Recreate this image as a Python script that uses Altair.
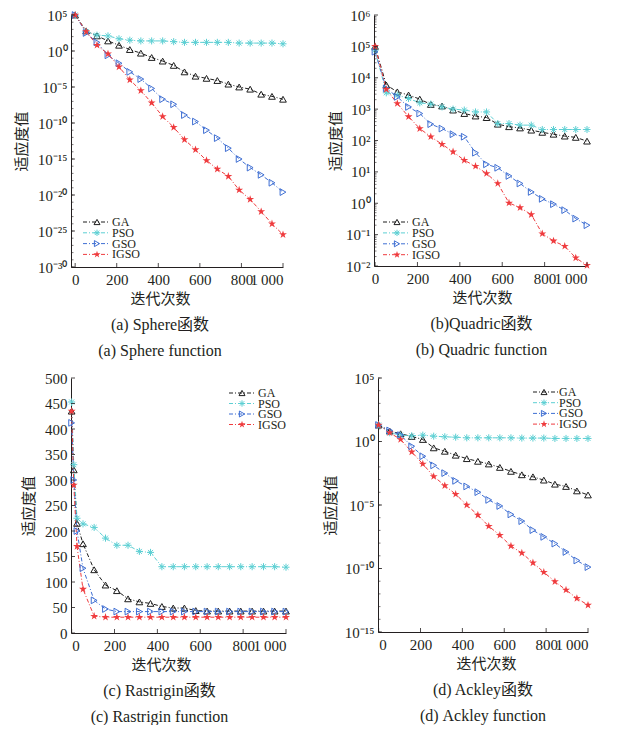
import math
import altair as alt
import pandas as pd

FONT = "'Liberation Serif', 'Times New Roman', 'Noto Sans CJK SC', serif"
TXT = "#231f20"

SERIES = ["GA", "PSO", "GSO", "IGSO"]
COLORS = ["#1e1e1e", "#5ccfd3", "#3f6fd3", "#ef3b3e"]
ASTER = "M0,-1L0,1M-1,0L1,0M-0.7,-0.7L0.7,0.7M-0.7,0.7L0.7,-0.7"
STAR = ("M0,-1L0.2245,-0.309L0.9511,-0.309L0.3633,0.118L0.5878,0.809L0,0.382"
        "L-0.5878,0.809L-0.3633,0.118L-0.9511,-0.309L-0.2245,-0.309Z")
SHAPES = ["triangle-up", ASTER, "triangle-right", STAR]
FILLED = [False, False, False, True]
SIZES = [45, 50, 45, 70]
DASH = [4, 2, 1, 2]

iters = [0, 53, 105, 158, 211, 263, 316, 368, 421, 474, 526, 579, 632, 684, 737, 789, 842, 895, 947, 1000]
iters_c = [0, 10, 25, 53, 105, 158, 211, 263, 316, 368, 421, 474, 526, 579, 632, 684, 737, 789, 842, 895, 947, 1000]

# (a) Sphere, log10 of fitness
sphere_ga = [5, 2.8, 2.1, 1.4, 0.8, 0.2, -0.3, -0.9, -1.4, -2.0, -2.9, -3.5, -3.8, -4.1, -4.6, -5.0, -5.3, -6.0, -6.3, -6.7]
sphere_pso = [5, 2.7, 2.2, 2.1, 1.7, 1.5, 1.4, 1.4, 1.4, 1.3, 1.2, 1.2, 1.2, 1.2, 1.2, 1.1, 1.1, 1.1, 1.1, 1.0]
sphere_gso = [5, 2.5, 1.2, -0.6, -1.7, -2.9, -3.9, -5.2, -6.7, -7.4, -8.9, -9.8, -11.0, -12.1, -13.5, -15.0, -16.2, -17.2, -18.3, -19.6]
sphere_igso = [5, 2.7, 0.8, -0.4, -2.2, -4.0, -5.5, -7.2, -9.1, -10.6, -12.3, -13.7, -15.2, -16.4, -17.4, -19.3, -20.6, -22.3, -24.0, -25.5]

# (b) Quadric, log10 of fitness
quad_ga = [5.0, 3.77, 3.55, 3.45, 3.32, 3.15, 3.1, 2.97, 2.86, 2.78, 2.73, 2.52, 2.44, 2.4, 2.33, 2.26, 2.2, 2.14, 2.1, 1.98]
quad_pso = [4.88, 3.52, 3.45, 3.34, 3.2, 3.16, 3.07, 3.0, 2.97, 2.91, 2.91, 2.54, 2.54, 2.49, 2.49, 2.35, 2.35, 2.35, 2.35, 2.35]
quad_gso = [4.83, 3.66, 3.39, 3.07, 2.86, 2.52, 2.38, 2.2, 2.12, 1.61, 1.24, 1.13, 0.87, 0.63, 0.36, 0.14, -0.03, -0.22, -0.49, -0.7]
quad_igso = [5.0, 3.63, 3.18, 2.76, 2.38, 2.12, 1.88, 1.64, 1.37, 1.18, 0.95, 0.63, 0.01, -0.14, -0.36, -0.97, -1.2, -1.37, -1.74, -1.98]

# (c) Rastrigin, fitness
rast_ga = [435, 320, 215, 175, 124, 94, 83, 67, 61, 58, 52, 49, 49, 44, 43, 43, 43, 43, 43, 43, 43, 43]
rast_pso = [453, 330, 225, 214, 207, 186, 172, 172, 160, 158, 130, 130, 130, 130, 130, 130, 130, 130, 130, 130, 130, 129]
rast_gso = [412, 300, 200, 127, 64, 47, 42, 42, 42, 42, 42, 42, 42, 42, 42, 42, 42, 42, 42, 42, 42, 42]
rast_igso = [435, 290, 170, 86, 33, 31, 31, 31, 31, 31, 31, 31, 31, 31, 31, 31, 31, 31, 31, 31, 31, 31]

# (d) Ackley, log10 of fitness
ack_ga = [1.3, 0.82, 0.61, 0.4, 0.16, -0.5, -0.77, -1.08, -1.35, -1.56, -1.77, -2.04, -2.35, -2.62, -2.78, -3.04, -3.36, -3.54, -3.89, -4.21]
ack_pso = [1.3, 0.69, 0.5, 0.45, 0.5, 0.42, 0.37, 0.34, 0.29, 0.29, 0.29, 0.29, 0.29, 0.27, 0.27, 0.27, 0.24, 0.24, 0.24, 0.24]
ack_gso = [1.3, 0.87, 0.5, -0.37, -1.16, -1.88, -2.49, -3.1, -3.54, -3.99, -4.6, -5.08, -5.74, -6.27, -6.98, -7.51, -8.04, -8.7, -9.37, -9.89]
ack_igso = [1.3, 0.69, 0.16, -0.82, -1.77, -2.75, -3.47, -4.15, -5.0, -5.79, -6.67, -7.38, -8.23, -8.78, -9.55, -10.29, -11.03, -11.69, -12.35, -12.88]

x_ticks = [0, 200, 400, 600, 800, 1000]
x_title = "迭代次数"
y_title = "适应度值"

SUP = str.maketrans("0123456789-", "⁰¹²³⁴⁵⁶⁷⁸⁹⁻")


def log_label_expr(exps):
    expr = "''"
    for e in reversed(exps):
        expr = f"(round(log(datum.value)/LN10) == {e} ? '10{str(e).translate(SUP)}' : {expr})"
    return expr


def make_df(xs, vals, log):
    rows = []
    for s, vs in zip(SERIES, vals):
        for x, v in zip(xs, vs):
            rows.append({"x": x, "y": 10.0 ** v if log else v, "series": s})
    return pd.DataFrame(rows)


def panel(df, log, ydom, ylabels, ymajor, yminor, xdom, w, h, ytx, xtx, leg, caption, cap_dx):
    xscale = alt.Scale(domain=xdom, nice=False, zero=False)
    common = dict(title=y_title, titleX=ytx, titleY=h / 2, titleAngle=270, titleBaseline="middle",
                  titleAlign="center", labelPadding=4)
    if log:
        yscale = alt.Scale(type="log", domain=ydom, nice=False)
        yaxis = alt.Axis(values=ylabels, labelExpr=log_label_expr([round(math.log10(v)) for v in ylabels]), **common)
    else:
        yscale = alt.Scale(domain=ydom, nice=False, zero=True)
        yaxis = alt.Axis(values=ylabels, **common)
    X = alt.X("x:Q", scale=xscale,
              axis=alt.Axis(values=x_ticks, labelExpr="datum.value == 1000 ? '1\u2009000' : datum.label",
                            title=x_title, titleX=xtx, titleY=31, titleBaseline="middle", titleAlign="center",
                            labelPadding=5))
    Y = alt.Y("y:Q", scale=yscale, axis=yaxis)

    layers = []
    for s, c in zip(SERIES, COLORS):
        layers.append(alt.Chart(df[df.series == s].reset_index(drop=True))
                      .mark_line(color=c, strokeWidth=1, strokeDash=DASH).encode(x=X, y=Y))
    for s, c, sh, f, sz in zip(SERIES, COLORS, SHAPES, FILLED, SIZES):
        layers.append(alt.Chart(df[df.series == s].reset_index(drop=True))
                      .mark_point(color=c, shape=sh, filled=f, size=sz, strokeWidth=1, opacity=1)
                      .encode(x=X, y=Y))
    # inward ticks
    layers.append(alt.Chart(pd.DataFrame({"y": ymajor})).mark_rule(color=TXT, strokeWidth=0.8)
                  .encode(y=Y, x=alt.value(0), x2=alt.value(4)))
    if yminor:
        layers.append(alt.Chart(pd.DataFrame({"y": yminor})).mark_rule(color=TXT, strokeWidth=0.6)
                      .encode(y=Y, x=alt.value(0), x2=alt.value(2.5)))
    layers.append(alt.Chart(pd.DataFrame({"x": x_ticks})).mark_rule(color=TXT, strokeWidth=0.8)
                  .encode(x=X, y=alt.value(h), y2=alt.value(h - 4)))
    # legend
    x0, x1, xm, xt, y0, dy = leg
    one = pd.DataFrame({"k": [0]})
    for i, (s, c, sh, f, sz) in enumerate(zip(SERIES, COLORS, SHAPES, FILLED, SIZES)):
        yy = y0 + i * dy
        layers.append(alt.Chart(one).mark_rule(color=c, strokeWidth=1, strokeDash=DASH)
                      .encode(x=alt.value(x0), x2=alt.value(x1), y=alt.value(yy)))
        layers.append(alt.Chart(one).mark_point(color=c, shape=sh, filled=f, size=sz * 0.8, strokeWidth=1, opacity=1)
                      .encode(x=alt.value(xm), y=alt.value(yy)))
        layers.append(alt.Chart(one).mark_text(text=s, align="left", baseline="middle", font=FONT,
                                               fontSize=12, color=TXT)
                      .encode(x=alt.value(xt), y=alt.value(yy)))
    return alt.layer(*layers).properties(
        width=w, height=h,
        title=alt.TitleParams(text=caption, orient="bottom", anchor="middle", frame="group", dx=cap_dx,
                              offset=11, font=FONT, fontSize=16, fontWeight="normal", color=TXT, lineHeight=26))


def dec(a, b):
    return [10.0 ** e for e in range(a, b - 1, -1)]


pa = panel(make_df(iters, [sphere_ga, sphere_pso, sphere_gso, sphere_igso], True), True,
           [1e-30, 1e5], [10.0 ** e for e in range(5, -31, -5)], [10.0 ** e for e in range(5, -31, -5)],
           dec(5, -30), [-20, 1000], 212, 252, -50, 89,
           (12, 39, 26, 41, 207, 10.8), ["(a) Sphere函数", "(a) Sphere function"], -17)

pb_minor = [k * 10.0 ** e for e in range(-2, 6) for k in range(2, 10)]
pb = panel(make_df(iters, [quad_ga, quad_pso, quad_gso, quad_igso], True), True,
           [1e-2, 1e6], dec(6, -2), dec(6, -2), pb_minor, [-5, 1000], 213, 251, -39, 108,
           (9, 36, 23, 38, 207, 10.9), ["(b)Quadric函数", "(b) Quadric function"], 1)

pc = panel(make_df(iters_c, [rast_ga, rast_pso, rast_gso, rast_igso], False), False,
           [0, 500], list(range(0, 501, 50)), list(range(0, 501, 50)), None, [-3, 1000], 215, 255, -43, 90,
           (158, 185, 171, 187, 15, 10.5), ["(c) Rastrigin函数", "(c) Rastrigin function"], -19)

pd_ = panel(make_df(iters, [ack_ga, ack_pso, ack_gso, ack_igso], True), True,
            [1e-15, 1e5], [10.0 ** e for e in range(5, -16, -5)], [10.0 ** e for e in range(5, -16, -5)],
            dec(5, -15), [-3, 1000], 210, 254, -48, 108,
            (155, 180, 166, 181, 14, 10.7), ["(d) Ackley函数", "(d) Ackley function"], 0)

chart = alt.vconcat(
    alt.hconcat(pa, pb, spacing=91, bounds="flush"),
    alt.hconcat(pc, pd_, spacing=92, bounds="flush"),
    spacing=12,
).properties(
    padding={"left": 6, "top": 0, "right": 0, "bottom": 0}
).configure_view(stroke=None).configure_axis(
    grid=False, ticks=False, domainColor=TXT, domainWidth=1, labelColor=TXT, labelFont=FONT,
    labelFontSize=15, titleFont=FONT, titleFontSize=15, titleFontWeight="normal", titleColor=TXT,
    labelOverlap=False,
)

chart.save("out.html", embed_options={"renderer": "svg", "actions": False})
